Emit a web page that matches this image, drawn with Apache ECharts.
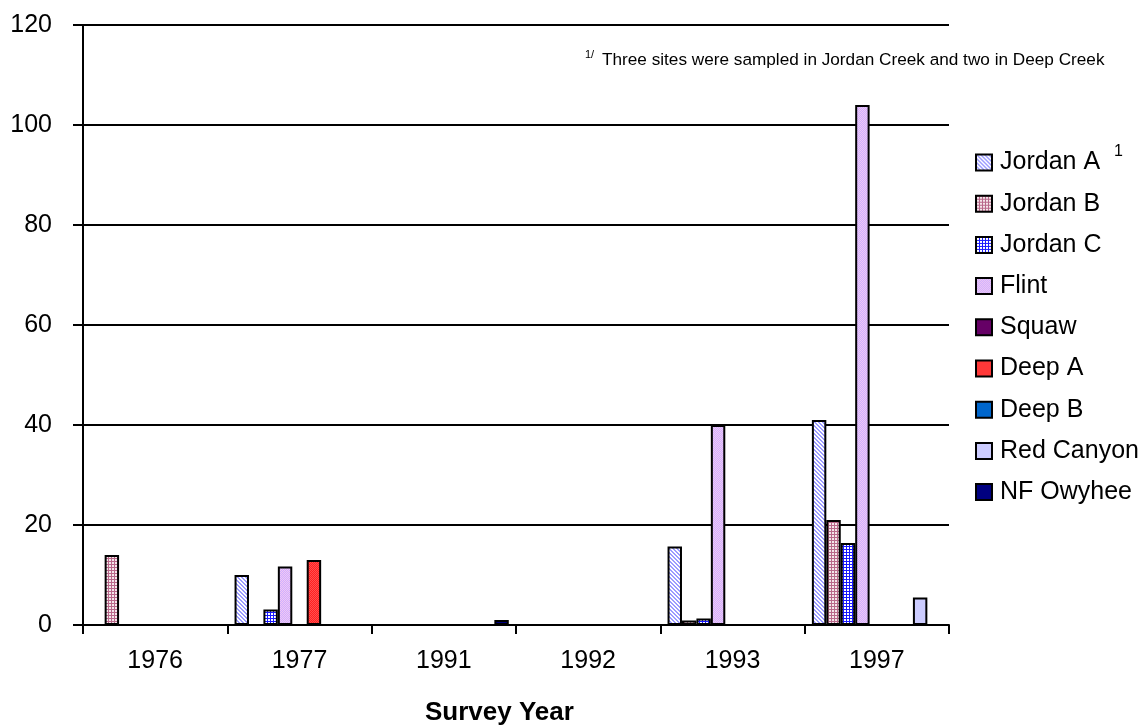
<!DOCTYPE html>
<html>
<head>
<meta charset="utf-8">
<script src="https://cdn.jsdelivr.net/npm/echarts@6/dist/echarts.min.js"></script>
<style>
html,body{margin:0;padding:0;background:#fff;}
#chart{width:1147px;height:728px;}
</style>
</head>
<body>
<div id="chart"></div>
<script>
// ---- data ----
const categories = ['1976', '1977', '1991', '1992', '1993', '1997'];
const seriesNames = ['Jordan A', 'Jordan B', 'Jordan C', 'Flint', 'Squaw', 'Deep A', 'Deep B', 'Red Canyon', 'NF Owyhee'];
const jordanA   = [null, 10,   null, null, 15.7, 41];
const jordanB   = [14,   null, null, null, 0.9,  21];
const jordanC   = [null, 3.1,  null, null, 1.3,  16.4];
const flint     = [null, 11.7, null, null, 40,   104];
const squaw     = [null, null, null, null, null, null];
const deepA     = [null, 13,   null, null, null, null];
const deepB     = [null, null, null, null, null, null];
const redCanyon = [null, null, null, null, null, 5.5];
const nfOwyhee  = [null, null, 1,    null, null, null];
const yTicks = [0, 20, 40, 60, 80, 100, 120];

const seriesData = [jordanA, jordanB, jordanC, flint, squaw, deepA, deepB, redCanyon, nfOwyhee];

// ---- patterns ----
function pat(size, draw) {
  const c = document.createElement('canvas');
  c.width = size; c.height = size;
  const g = c.getContext('2d');
  draw(g, size);
  return { image: c, repeat: 'repeat' };
}
const fills = [
  pat(4, (g, s) => { g.fillStyle = '#ffffff'; g.fillRect(0,0,s,s); g.fillStyle = '#9c9cff';
    for (let i = 0; i < s; i++) { g.fillRect(i, i, 1, 1); g.fillRect((i+1)%s, i, 1, 1); } }),
  pat(3, (g, s) => { g.fillStyle = '#f4e6ea'; g.fillRect(0,0,s,s); g.fillStyle = '#b8688a';
    g.fillRect(0,0,s,1); g.fillRect(0,0,1,s); }),
  pat(3, (g, s) => { g.fillStyle = '#ffffff'; g.fillRect(0,0,s,s); g.fillStyle = '#1a1aff';
    g.fillRect(0,0,s,1); g.fillRect(0,0,1,s); }),
  pat(2, (g, s) => { g.fillStyle = '#cfb0ff'; g.fillRect(0,0,s,s); g.fillStyle = '#f0c8f4';
    g.fillRect(0,0,1,1); g.fillRect(1,1,1,1); }),
  '#660066',
  pat(2, (g, s) => { g.fillStyle = '#ff2020'; g.fillRect(0,0,s,s); g.fillStyle = '#ff5050';
    g.fillRect(0,0,1,1); g.fillRect(1,1,1,1); }),
  '#0066cc',
  '#ccccff',
  '#000080'
];

const FONT = "'Liberation Sans', Arial, sans-serif";

const chart = echarts.init(document.getElementById('chart'));
chart.setOption({
  animation: false,
  backgroundColor: '#ffffff',
  textStyle: { fontFamily: FONT },
  grid: { left: 83, right: 198, top: 25, bottom: 103, containLabel: false },
  legend: {
    orient: 'vertical',
    left: 970,
    top: 145,
    itemWidth: 16,
    itemHeight: 16,
    itemGap: 16.2,
    icon: 'rect',
    data: seriesNames,
    textStyle: { fontSize: 25, color: '#000', fontFamily: FONT, lineHeight: 25, padding: [0, 0, 0, 3] },
    itemStyle: { borderColor: '#000', borderWidth: 2 }
  },
  xAxis: {
    type: 'category',
    data: categories,
    axisLine: { lineStyle: { color: '#000', width: 2 } },
    axisTick: { show: true, length: 9, lineStyle: { color: '#000', width: 2 } },
    axisLabel: { fontSize: 25, color: '#000', margin: 24, fontFamily: FONT },
    splitLine: { show: false }
  },
  yAxis: {
    type: 'value',
    min: 0, max: 120, interval: 20,
    axisLine: { show: true, lineStyle: { color: '#000', width: 2 } },
    axisTick: { show: true, length: 10, lineStyle: { color: '#000', width: 2 } },
    axisLabel: { fontSize: 25, color: '#000', margin: 31, fontFamily: FONT,
      formatter: v => yTicks.includes(v) ? String(v) : '' },
    splitLine: { show: true, lineStyle: { color: '#000', width: 2 } }
  },
  series: seriesNames.map((name, i) => ({
    name: name,
    type: 'bar',
    data: seriesData[i],
    barGap: '0%',
    barCategoryGap: '10%',
    itemStyle: { color: fills[i], borderColor: '#000', borderWidth: 2 },
    emphasis: { disabled: true }
  })),
  graphic: [
    { type: 'text', left: 425, top: 700,
      style: { text: 'Survey Year', font: "bold 26px 'Liberation Sans', Arial, sans-serif", fill: '#000' } },
    { type: 'text', left: 1114, top: 144,
      style: { text: '1', font: "16px 'Liberation Sans', Arial, sans-serif", fill: '#000' } },
    { type: 'text', left: 585, top: 49,
      style: { text: '1/', font: "11px 'Liberation Sans', Arial, sans-serif", fill: '#000' } },
    { type: 'text', left: 602, top: 52,
      style: { text: 'Three sites were sampled in Jordan Creek and two in Deep Creek', font: "17.2px 'Liberation Sans', Arial, sans-serif", fill: '#000' } }
  ]
});
</script>
</body>
</html>
